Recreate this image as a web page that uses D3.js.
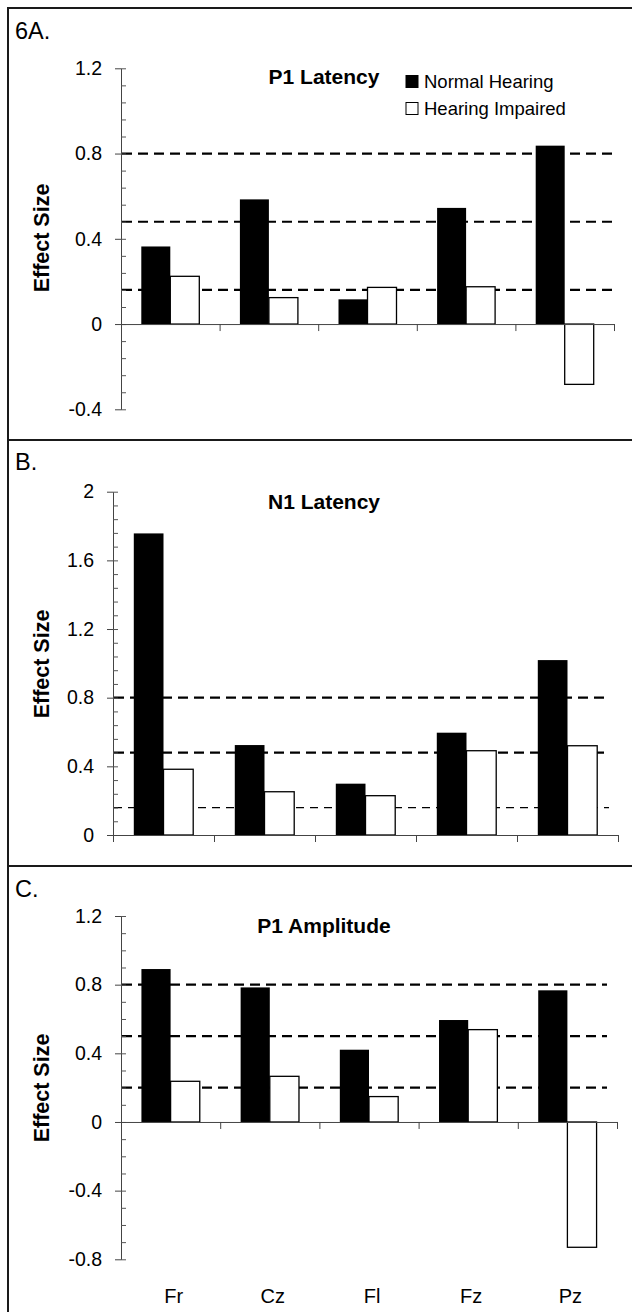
<!DOCTYPE html>
<html>
<head>
<meta charset="utf-8">
<script src="https://cdn.jsdelivr.net/npm/d3@7"></script>
<style>
	body { margin: 0; background: #fff; }
	svg { display: block; }
	text { font-family: Arial, "Liberation Sans", sans-serif; }
</style>
</head>
<body>
<div id="figure"></div>
<script>
// electrodes and series
const electrodes = ['Fr', 'Cz', 'Fl', 'Fz', 'Pz']
const seriesNames = ['Normal Hearing', 'Hearing Impaired']

// effect sizes
const p1LatencyNormal = [0.364, 0.585, 0.116, 0.545, 0.837]
const p1LatencyImpaired = [0.224, 0.124, 0.172, 0.175, -0.283]
const n1LatencyNormal = [1.757, 0.524, 0.299, 0.596, 1.019]
const n1LatencyImpaired = [0.383, 0.252, 0.229, 0.491, 0.520]
const p1AmplitudeNormal = [0.891, 0.784, 0.421, 0.594, 0.767]
const p1AmplitudeImpaired = [0.237, 0.266, 0.148, 0.538, -0.730]

// dashed reference lines (large / medium / small effect)
const p1LatencyRefs = [0.8, 0.48, 0.16]
const n1LatencyRefs = [0.8, 0.48, 0.16]
const p1AmplitudeRefs = [0.8, 0.5, 0.2]

// y tick labels
const p1LatencyTicks = [-0.4, 0, 0.4, 0.8, 1.2]
const n1LatencyTicks = [0, 0.4, 0.8, 1.2, 1.6, 2]
const p1AmplitudeTicks = [-0.8, -0.4, 0, 0.4, 0.8, 1.2]

const panelLabels = ['6A.', 'B.', 'C.']
const panelTitles = ['P1 Latency', 'N1 Latency', 'P1 Amplitude']

const width = 632, height = 1312

let svg = d3.select('#figure')
	.append('svg')
	.attr('width', width)
	.attr('height', height)

svg.append('rect').attr('width', width).attr('height', height).attr('fill', '#fff')

// frame around the three panels
const frame = svg.append('g').attr('stroke', '#1a1a1a').attr('stroke-width', 2)
frame.append('line').attr('x1', 8).attr('x2', 8).attr('y1', 7).attr('y2', height)
frame.append('line').attr('x1', 7).attr('x2', width).attr('y1', 8).attr('y2', 8)
frame.append('line').attr('x1', 7).attr('x2', width).attr('y1', 440).attr('y2', 440)
frame.append('line').attr('x1', 7).attr('x2', width).attr('y1', 866).attr('y2', 866)

const panels = [
	{ label: panelLabels[0], title: panelTitles[0], normal: p1LatencyNormal, impaired: p1LatencyImpaired,
	  refs: p1LatencyRefs, ticks: p1LatencyTicks, minorStep: 0.08,
	  x0: 121, x1: 614, yTop: 68.3, yBottom: 409.3, labelY: 39, titleY: 84, ylabelY: 238,
	  refEnd: 614, thinLast: false, legend: true, xLabels: false },
	{ label: panelLabels[1], title: panelTitles[1], normal: n1LatencyNormal, impaired: n1LatencyImpaired,
	  refs: n1LatencyRefs, ticks: n1LatencyTicks, minorStep: 0.08,
	  x0: 113, x1: 618, yTop: 491.7, yBottom: 835, labelY: 470, titleY: 509, ylabelY: 664,
	  refEnd: 609, thinLast: true, legend: false, xLabels: false },
	{ label: panelLabels[2], title: panelTitles[2], normal: p1AmplitudeNormal, impaired: p1AmplitudeImpaired,
	  refs: p1AmplitudeRefs, ticks: p1AmplitudeTicks, minorStep: 0.1,
	  x0: 121, x1: 617, yTop: 916, yBottom: 1259.3, labelY: 897, titleY: 933, ylabelY: 1088,
	  refEnd: 607, thinLast: false, legend: false, xLabels: true }
]

panels.forEach(p => drawPanel(p))

function drawPanel(p) {
	const g = svg.append('g')

	const yMin = d3.min(p.ticks), yMax = d3.max(p.ticks)

	let yScale = d3.scaleLinear()
		.domain([yMin, yMax])
		.range([p.yBottom, p.yTop])

	let xScale = d3.scaleBand()
		.domain(electrodes)
		.range([p.x0, p.x1])
		.padding(0)

	// boundaries between categories
	let edgeScale = d3.scaleLinear()
		.domain([0, electrodes.length])
		.range([p.x0, p.x1])

	// Excel style: two bars per group, gap width 140%
	const bw = xScale.bandwidth() / 3.4
	const offset = (xScale.bandwidth() - 2 * bw) / 2

	const rows = electrodes.map((e, i) => ({ e, normal: p.normal[i], impaired: p.impaired[i] }))

	// panel letter
	g.append('text')
		.attr('x', 15).attr('y', p.labelY)
		.attr('font-size', 23.5)
		.text(p.label)

	// title
	g.append('text')
		.attr('x', 324).attr('y', p.titleY)
		.attr('text-anchor', 'middle')
		.attr('font-size', 21).attr('font-weight', 'bold')
		.text(p.title)

	// y axis title
	g.append('text')
		.attr('transform', `translate(49,${p.ylabelY}) rotate(-90)`)
		.attr('text-anchor', 'middle')
		.attr('font-size', 21.5).attr('font-weight', 'bold')
		.text('Effect Size')

	// dashed reference lines
	g.selectAll('.ref')
		.data(p.refs)
		.join('line')
		.attr('class', 'ref')
		.attr('x1', p.x0 + 1).attr('x2', p.refEnd)
		.attr('y1', d => yScale(d)).attr('y2', d => yScale(d))
		.attr('stroke', '#000')
		.attr('stroke-width', (d, i) => (p.thinLast && i === p.refs.length - 1) ? 1.2 : 2.2)
		.attr('stroke-dasharray', (d, i) => (p.thinLast && i === p.refs.length - 1) ? '8,6' : '10,6')

	// bars
	g.selectAll('.normal')
		.data(rows)
		.join('rect')
		.attr('class', 'normal')
		.attr('x', d => xScale(d.e) + offset)
		.attr('width', bw)
		.attr('y', d => yScale(Math.max(0, d.normal)))
		.attr('height', d => Math.abs(yScale(d.normal) - yScale(0)))
		.attr('fill', '#000')

	g.selectAll('.impaired')
		.data(rows)
		.join('rect')
		.attr('class', 'impaired')
		.attr('x', d => xScale(d.e) + offset + bw)
		.attr('width', bw)
		.attr('y', d => yScale(Math.max(0, d.impaired)))
		.attr('height', d => Math.abs(yScale(d.impaired) - yScale(0)))
		.attr('fill', '#fff')
		.attr('stroke', '#000')
		.attr('stroke-width', 1.3)

	// y axis: major ticks outside with labels
	let yAxis = g.append('g')
		.attr('transform', `translate(${p.x0},0)`)
		.call(d3.axisLeft(yScale)
			.tickValues(p.ticks)
			.tickSize(6)
			.tickSizeOuter(0)
			.tickPadding(13)
			.tickFormat(d => String(d)))
	yAxis.select('.domain').attr('stroke', '#444')
	yAxis.selectAll('line').attr('stroke', '#444')
	yAxis.selectAll('text')
		.attr('font-family', 'Arial, "Liberation Sans", sans-serif')
		.attr('font-size', 19.5)
		.attr('fill', '#000')

	// inside ticks: majors and minors
	const minor = d3.range(Math.round((yMax - yMin) / p.minorStep) + 1).map(i => yMin + i * p.minorStep)
	let yInner = g.append('g')
		.attr('transform', `translate(${p.x0},0)`)
		.call(d3.axisRight(yScale)
			.tickValues(minor)
			.tickSize(5)
			.tickSizeOuter(0)
			.tickFormat(''))
	yInner.select('.domain').remove()
	yInner.selectAll('line').attr('stroke', '#555')

	// category axis along zero with boundary ticks
	let xAxis = g.append('g')
		.attr('transform', `translate(0,${yScale(0)})`)
		.call(d3.axisBottom(edgeScale)
			.tickValues(d3.range(electrodes.length + 1))
			.tickSize(7)
			.tickSizeOuter(0)
			.tickFormat(''))
	xAxis.select('.domain').attr('stroke', '#444')
	xAxis.selectAll('line').attr('stroke', '#444')

	if (p.xLabels) {
		let xLab = g.append('g')
			.attr('transform', `translate(3,1286)`)
			.call(d3.axisBottom(xScale).tickSize(0).tickPadding(3))
		xLab.select('.domain').remove()
		xLab.selectAll('text')
			.attr('font-family', 'Arial, "Liberation Sans", sans-serif')
			.attr('font-size', 20)
			.attr('fill', '#000')
	}

	if (p.legend) {
		const legend = g.append('g')
		legend.selectAll('rect')
			.data(seriesNames)
			.join('rect')
			.attr('x', 406)
			.attr('y', (d, i) => 75.5 + i * 27)
			.attr('width', 12).attr('height', 12)
			.attr('fill', (d, i) => i === 0 ? '#000' : '#fff')
			.attr('stroke', '#000')
			.attr('stroke-width', 1)
		legend.selectAll('text')
			.data(seriesNames)
			.join('text')
			.attr('x', 424)
			.attr('y', (d, i) => 88 + i * 27)
			.attr('font-size', 18.5)
			.text(d => d)
	}
}
</script>
</body>
</html>
